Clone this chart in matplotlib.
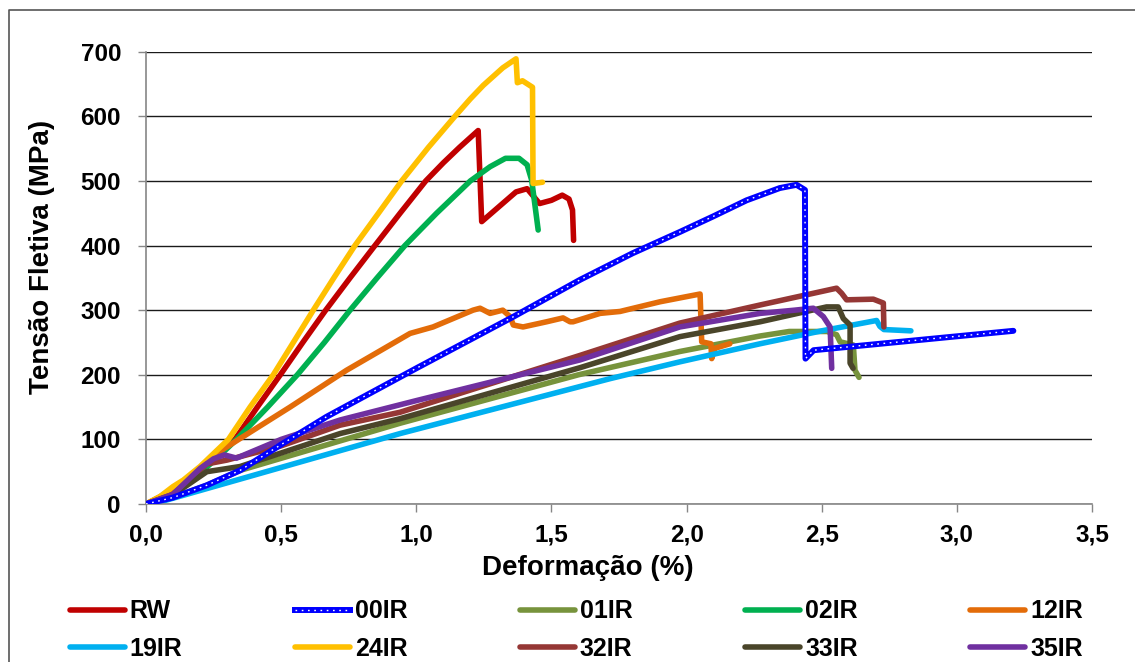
import matplotlib
matplotlib.use("Agg")
import matplotlib.pyplot as plt
from matplotlib.lines import Line2D

plt.rcParams['font.family'] = ['Liberation Sans', 'DejaVu Sans']
plt.rcParams['font.weight'] = 'bold'

# Data (deformation %, flexural stress MPa)
rw_x = [0, 0.05, 0.1, 0.15, 0.2, 0.26, 0.329, 0.412, 0.497, 0.58, 0.665, 0.755, 0.847, 0.94, 1.035, 1.10, 1.16,
        1.229, 1.242, 1.30, 1.369, 1.41, 1.456, 1.50, 1.54, 1.565, 1.578, 1.582]
rw_y = [0, 8, 20, 33, 50, 72, 100, 150, 200, 250, 300, 350, 400, 450, 500, 528, 552,
        578, 437, 458, 483, 488, 465, 470, 478, 472, 455, 408]

ir00_x = [0, 0.1, 0.225, 0.348, 0.5, 0.668, 1.0, 1.36, 1.606, 1.8, 1.975, 2.098, 2.222, 2.345, 2.407, 2.438, 2.44, 2.47, 3.209]
ir00_y = [0, 10, 29, 52, 92, 135, 210, 290, 347, 388, 421, 445, 470, 489, 494, 486, 225, 238, 268]

ir01_x = [0, 0.1, 0.225, 0.348, 0.94, 1.6, 1.975, 2.272, 2.38, 2.52, 2.555, 2.568, 2.617, 2.623, 2.638]
ir01_y = [0, 10, 29, 52, 125, 200, 236, 260, 267, 267, 262, 251, 246, 207, 196]

ir02_x = [0, 0.05, 0.1, 0.15, 0.2, 0.26, 0.335, 0.45, 0.56, 0.66, 0.755, 0.855, 0.958, 1.075, 1.2, 1.273, 1.33, 1.38,
          1.41, 1.427, 1.451]
ir02_y = [0, 8, 20, 33, 48, 70, 100, 150, 200, 250, 300, 350, 400, 450, 500, 522, 535, 535,
          525, 501, 424]

ir12_x = [0, 0.1, 0.2, 0.26, 0.4, 0.533, 0.742, 0.977, 1.062, 1.21, 1.236, 1.273, 1.32, 1.347, 1.359, 1.395, 1.482,
          1.543, 1.569, 1.58, 1.68, 1.754, 1.902, 2.05, 2.056, 2.09, 2.093, 2.105, 2.16]
ir12_y = [0, 22, 55, 78, 115, 150, 207, 264, 274, 300, 303, 295, 300, 290, 277, 274, 282,
          288, 282, 282, 295, 298, 313, 325, 251, 248, 225, 241, 248]

ir19_x = [0, 0.05, 0.94, 1.717, 1.975, 2.272, 2.5, 2.703, 2.715, 2.73, 2.83]
ir19_y = [0, 3, 109, 194, 220, 248, 268, 284, 275, 270, 268]

ir24_x = [0, 0.05, 0.1, 0.138, 0.2, 0.25, 0.305, 0.385, 0.471, 0.545, 0.619, 0.695, 0.773, 0.86, 0.946, 1.045, 1.143,
          1.2, 1.248, 1.32, 1.369, 1.374, 1.393, 1.43, 1.432, 1.467]
ir24_y = [0, 11, 27, 37, 58, 78, 100, 150, 200, 250, 300, 350, 400, 450, 500, 552, 600,
          627, 648, 675, 689, 652, 655, 645, 496, 498]

ir32_x = [0, 0.1, 0.225, 0.3, 0.5, 0.718, 0.94, 1.606, 1.975, 2.272, 2.555, 2.574, 2.592, 2.691, 2.728, 2.73]
ir32_y = [0, 15, 62, 68, 90, 122, 142, 230, 280, 308, 334, 326, 316, 317, 311, 274]

ir33_x = [0, 0.1, 0.225, 0.348, 0.718, 0.94, 1.606, 1.975, 2.272, 2.518, 2.561, 2.58, 2.605, 2.605, 2.616]
ir33_y = [0, 14, 50, 58, 109, 132, 211, 259, 282, 305, 305, 287, 277, 218, 210]

ir35_x = [0, 0.1, 0.2, 0.25, 0.29, 0.335, 0.5, 0.718, 1.0, 1.606, 1.975, 2.272, 2.4, 2.469, 2.506, 2.531, 2.537]
ir35_y = [0, 15, 55, 70, 76, 71, 100, 130, 160, 223, 274, 295, 300, 303, 290, 274, 210]

names = ['RW', '00IR', '01IR', '02IR', '12IR', '19IR', '24IR', '32IR', '33IR', '35IR']
colors = ['#C00000', '#0000FF', '#77933C', '#00B050', '#E36C09', '#00B0F0', '#FFC000', '#953735', '#4A452A', '#7030A0']
xs = [rw_x, ir00_x, ir01_x, ir02_x, ir12_x, ir19_x, ir24_x, ir32_x, ir33_x, ir35_x]
ys = [rw_y, ir00_y, ir01_y, ir02_y, ir12_y, ir19_y, ir24_y, ir32_y, ir33_y, ir35_y]

fig = plt.figure(figsize=(11.35, 6.62), dpi=100)
ax = fig.add_axes([146 / 1135, 1 - 504 / 662, (1092 - 146) / 1135, (504 - 51.7) / 662])

lw = 4.0
handles = {}
for name, c, x, y in zip(names, colors, xs, ys):
    if name == '00IR':
        continue
    h, = ax.plot(x, y, color=c, lw=lw, solid_capstyle='round', solid_joinstyle='round')
    handles[name] = h

# 00IR: blue line with white dots inside, drawn on top
dots = (0, (1.2, 3.3))
ax.plot(ir00_x, ir00_y, color='#0000FF', lw=lw + 0.3, solid_capstyle='round', zorder=5)
ax.plot(ir00_x, ir00_y, color='white', lw=1.0, linestyle=dots, zorder=6)
handles['00IR'] = (Line2D([], [], color='#0000FF', lw=lw + 0.3),
                   Line2D([], [], color='white', lw=1.0, linestyle=dots))

# Axes formatting
xt = [0, 0.5, 1.0, 1.5, 2.0, 2.5, 3.0, 3.5]
ax.set_xlim(0, 3.5)
ax.set_ylim(0, 700)
ax.set_xticks(xt)
ax.set_xticklabels([f"{v:.1f}".replace('.', ',') for v in xt])
ax.set_yticks(range(0, 701, 100))
ax.tick_params(axis='both', labelsize=17.5, length=6, width=1, color='#868686')
ax.tick_params(axis='y', pad=12)
ax.tick_params(axis='x', pad=8)
for s in ['top', 'right']:
    ax.spines[s].set_visible(False)
for s in ['left', 'bottom']:
    ax.spines[s].set_color('#868686')
    ax.spines[s].set_linewidth(1.2)
ax.grid(axis='y', color='#1a1a1a', linewidth=1)
ax.set_axisbelow(True)

ax.set_xlabel('Deformação (%)', fontsize=20, fontweight='bold')
ax.set_ylabel('Tensão Fletiva (MPa)', fontsize=20, fontweight='bold')
ax.xaxis.set_label_coords(0.467, -0.113)
ax.yaxis.set_label_coords(-0.096, 0.546)

# Legend: two rows, five columns (matplotlib fills column-wise)
order = ['RW', '19IR', '00IR', '24IR', '01IR', '32IR', '02IR', '33IR', '12IR', '35IR']
leg = fig.legend([handles[n] for n in order], order, ncol=5, loc='center left',
                 bbox_to_anchor=(47 / 1135, 1 - 630 / 662), frameon=False,
                 prop={'size': 18, 'weight': 'bold'}, handlelength=2.2, handletextpad=0.2,
                 columnspacing=4.5, labelspacing=0.52)

# Outer chart border (left and top visible)
fig.add_artist(Line2D([9 / 1135, 9 / 1135, 1], [0, 1 - 10 / 662, 1 - 10 / 662],
                      color='#555555', lw=1.2, transform=fig.transFigure))

fig.savefig('out.png', dpi=100)
